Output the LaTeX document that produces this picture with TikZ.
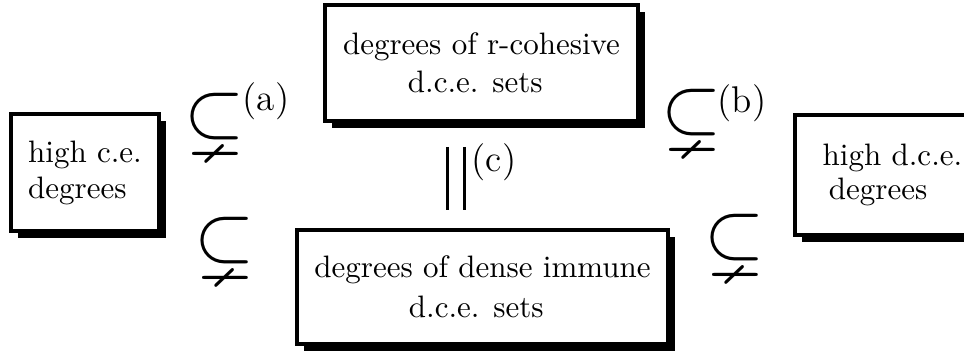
\documentclass[tikz,border=0pt]{standalone}
\usepackage{amssymb}
\usetikzlibrary{shadows}
\def\pu{0.3226pt}
\newcommand{\mysubne}{\makebox[11pt]{\scalebox{2.5}[2.6]{$\subsetneq$}}}
\begin{document}
\begin{tikzpicture}[x=0.3226pt,y=-0.3226pt,
  sbox/.style={draw, fill=white, line width=4*\pu, inner sep=0pt,
    font=\fontsize{10}{12}\selectfont,
    general shadow={shadow xshift=7*\pu, shadow yshift=-7*\pu, fill=black}},
  rel/.style={inner sep=0pt},
  lab/.style={inner sep=0pt, font=\fontsize{12}{14}\selectfont}]
\useasboundingbox (0,0) rectangle (964,351);
\clip (0,0) rectangle (964,351);
% boxes
\node[sbox, minimum width=148*\pu, minimum height=117*\pu, align=left,
  font=\fontsize{10}{11.8}\selectfont] (hce) at (85,173) {high c.e.\\degrees};
\node[sbox, minimum width=313*\pu, minimum height=116*\pu, align=center,
  font=\fontsize{10}{12.3}\selectfont] (rcoh) at (481.5,63)
  {degrees of r-cohesive\\d.c.e. sets\hspace*{4pt}};
\node[sbox, minimum width=371*\pu, minimum height=114*\pu, align=center,
  font=\fontsize{10}{12.9}\selectfont] (dimm) at (482.5,287)
  {degrees of dense immune\\d.c.e. sets\hspace*{4pt}};
\node[sbox, minimum width=195*\pu, minimum height=120*\pu, align=left,
  font=\fontsize{10}{10.8}\selectfont] (hdce) at (892.5,175) {high d.c.e.\\\hspace*{2pt}degrees};
% relation symbols
\node[rel] (sa) at (215,124) {\mysubne};
\node[rel] (sl) at (225,248) {\mysubne};
\node[rel] (sb) at (692,120) {\mysubne};
\node[rel] (sr) at (735,245) {\mysubne};
\node[lab] (la) at (266,101) {(a)};
\node[lab] (lb) at (742,103) {(b)};
\node[lab] (lc) at (494,162) {(c)};
% equality bars
\coordinate (e1t) at (448,147);
\coordinate (e1b) at (448,210);
\coordinate (e2t) at (465,147);
\coordinate (e2b) at (465,210);
\draw[line width=3*\pu] (e1t) -- (e1b) (e2t) -- (e2b);
\end{tikzpicture}
\end{document}
